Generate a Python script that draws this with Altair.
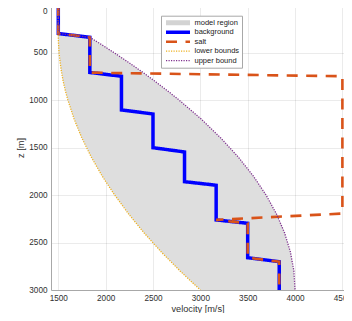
import altair as alt
import pandas as pd

# ---- data ----
series_names = ["model region", "background", "salt", "lower bounds", "upper bound"]
series_colors = ["#d3d3d3", "#0000ff", "#d95319", "#edb120", "#7e2f8e"]
series_dash = [[1, 0], [1, 0], [11, 8.5], [1.2, 1.3], [1.2, 1.3]]
series_width = [5, 3.5, 2.6, 1.3, 1.3]

z_bounds = [0, 300, 340, 400, 500, 600, 700, 800, 900, 1000, 1200, 1400, 1600, 1800, 2000, 2200, 2400, 2600, 2800, 3000]
lower_v = [1500, 1500, 1500, 1502, 1508, 1519, 1533, 1551, 1574, 1601, 1667, 1749, 1848, 1963, 2095, 2243, 2407, 2588, 2786, 3000]
upper_v = [1500, 1500, 1833, 1930, 2086, 2236, 2380, 2518, 2649, 2775, 3008, 3216, 3400, 3559, 3694, 3804, 3890, 3951, 3988, 4000]

bg_z = [0, 300, 340, 710, 750, 1105, 1147, 1502, 1547, 1860, 1897, 2262, 2298, 2660, 2702, 3000]
bg_v = [1500, 1500, 1833, 1833, 2167, 2167, 2500, 2500, 2833, 2833, 3167, 3167, 3500, 3500, 3833, 3833]

salt_z = [0, 300, 340, 712, 750, 2195, 2262, 2298, 2660, 2702, 3000]
salt_v = [1500, 1500, 1833, 1833, 4500, 4500, 3167, 3500, 3500, 3833, 3833]

x_ticks = [1500, 2000, 2500, 3000, 3500, 4000, 4500]
y_ticks = [0, 500, 1000, 1500, 2000, 2500, 3000]

# ---- tables ----
area_df = pd.DataFrame({"z": z_bounds, "lo": lower_v, "hi": upper_v})

rows = []
for name, vs, zs in [("background", bg_v, bg_z), ("salt", salt_v, salt_z),
                     ("lower bounds", lower_v, z_bounds), ("upper bound", upper_v, z_bounds)]:
    for i, (v, z) in enumerate(zip(vs, zs)):
        rows.append({"series": name, "idx": i, "v": v, "z": z})
lines_df = pd.DataFrame(rows)

FONT = "Liberation Sans"
xscale = alt.Scale(domain=[1423, 4517], nice=False, zero=False)
yscale = alt.Scale(domain=[0, 3000], reverse=True, nice=False, zero=False)

xaxis = alt.Axis(values=x_ticks, format="d", title="velocity [m/s]", labelPadding=4, titlePadding=3)
yaxis = alt.Axis(values=y_ticks, format="d", title="z [m]", labelPadding=4, titlePadding=3,
                 labelOffset={"condition": {"test": "datum.value == 0", "value": 6}, "value": 0})

area = alt.Chart(area_df).mark_area(orient="horizontal", color="#dedede").encode(
    y=alt.Y("z:Q", scale=yscale, axis=yaxis),
    x=alt.X("lo:Q", scale=xscale, axis=xaxis),
    x2="hi:Q",
)

base = alt.Chart(lines_df).mark_line().encode(
    x=alt.X("v:Q", scale=xscale, axis=xaxis),
    y=alt.Y("z:Q", scale=yscale, axis=yaxis),
    order=alt.Order("idx:Q"),
    color=alt.Color("series:N", scale=alt.Scale(domain=series_names, range=series_colors), legend=alt.Legend(title=None)),
    strokeDash=alt.StrokeDash("series:N", scale=alt.Scale(domain=series_names, range=series_dash), legend=alt.Legend(title=None)),
    strokeWidth=alt.StrokeWidth("series:N", scale=alt.Scale(type="ordinal", domain=series_names, range=series_width), legend=alt.Legend(title=None)),
)

layers = [base.transform_filter(alt.datum.series == s) for s in series_names[1:]]

chart = alt.layer(area, *layers).properties(
    width=293, height=285,
    padding={"left": 43, "top": -3, "right": 0, "bottom": 23},
    autosize=alt.AutoSizeParams(type="none"),
).configure_view(stroke=None).configure_axis(
    labelFont=FONT, titleFont=FONT, labelFontSize=8.2, titleFontSize=9.2,
    titleFontWeight="normal", labelColor="#303030", titleColor="#303030",
    ticks=False, tickSize=0, grid=True, gridColor="#000000", gridOpacity=0.08,
    domainColor="#a8a8a8", domainWidth=1, labelFlush=False, zindex=1,
).configure_legend(
    orient="none", legendX=110, legendY=10.7, padding=2.5,
    strokeColor="#a8a8a8", fillColor="white", labelFont=FONT, labelFontSize=7.5,
    labelColor="#222222", symbolSize=576, clipHeight=9, rowPadding=0.5,
    labelOffset=2, symbolType="stroke",
)

chart.save("out.html", embed_options={"renderer": "svg", "actions": False})
